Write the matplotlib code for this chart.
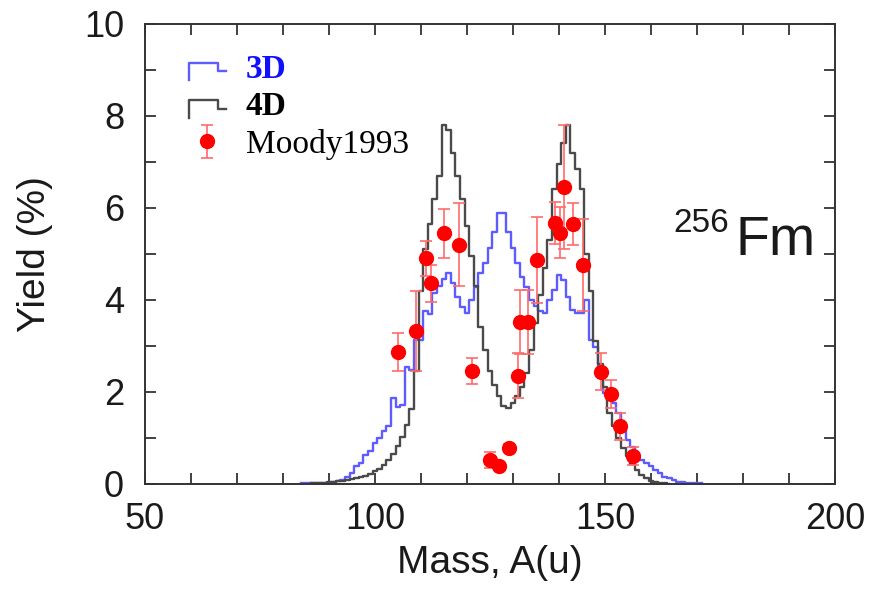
import numpy as np
import matplotlib
matplotlib.use("Agg")
import matplotlib.pyplot as plt
from matplotlib.lines import Line2D
from matplotlib.legend_handler import HandlerBase
from matplotlib.ticker import MultipleLocator

# fragment mass bins (u) and calculated yields (%)
mass_3d = np.arange(84, 172)
yield_3d = [0.01, 0.01, 0.01, 0.02, 0.02, 0.02, 0.03, 0.04, 0.06, 0.09,
            0.16, 0.23, 0.38, 0.45, 0.63, 0.72, 0.88, 1.00, 1.14, 1.25,
            1.86, 1.68, 1.72, 2.55, 2.48, 3.13, 3.13, 3.75, 3.70, 4.15,
            4.30, 4.45, 4.58, 4.36, 4.07, 3.85, 3.72, 4.00, 4.29, 4.58,
            4.80, 5.12, 5.48, 5.88, 5.88, 5.48, 5.12, 4.80, 4.50, 4.29,
            4.00, 3.86, 3.75, 3.71, 4.00, 4.22, 4.54, 4.43, 4.07, 3.78,
            3.71, 3.71, 4.00, 3.13, 2.98, 2.50, 1.97, 1.83, 1.75, 1.54,
            1.17, 0.96, 0.81, 0.67, 0.52, 0.45, 0.38, 0.30, 0.23, 0.16,
            0.12, 0.08, 0.05, 0.04, 0.03, 0.02, 0.02, 0.01]

mass_4d = np.arange(86, 165)
yield_4d = [0.01, 0.01, 0.02, 0.03, 0.04, 0.05, 0.06, 0.07, 0.09, 0.11,
            0.13, 0.15, 0.18, 0.22, 0.27, 0.33, 0.41, 0.52, 0.65, 0.82,
            1.02, 1.28, 1.62, 2.45, 4.20, 5.10, 5.65, 6.20, 6.70, 7.80,
            7.70, 7.20, 6.70, 6.20, 5.60, 4.95, 4.30, 3.40, 2.90, 2.45,
            2.15, 1.90, 1.70, 1.65, 1.75, 1.90, 2.10, 2.40, 2.90, 3.50,
            4.10, 4.70, 5.30, 6.40, 6.95, 7.40, 7.80, 7.20, 6.85, 6.40,
            5.00, 4.20, 3.10, 2.60, 2.10, 1.55, 1.25, 1.00, 0.78, 0.60,
            0.44, 0.30, 0.20, 0.12, 0.07, 0.04, 0.02, 0.01, 0.00]

# measured yields (Moody 1993)
mass_exp = [105.0, 108.9, 111.1, 112.2, 115.0, 118.3, 121.1, 125.0, 127.0,
            129.2, 131.2, 131.6, 133.3, 135.3, 139.1, 140.2, 141.2, 143.1,
            145.3, 149.1, 151.3, 153.3, 156.2]
yield_exp = [2.87, 3.32, 4.91, 4.36, 5.45, 5.20, 2.46, 0.52, 0.38, 0.79,
             2.35, 3.52, 3.52, 4.87, 5.67, 5.46, 6.45, 5.65, 4.75, 2.44,
             1.95, 1.25, 0.61]
err_exp = [0.42, 0.87, 0.38, 0.40, 0.53, 0.90, 0.28, 0.18, 0.08, 0.08,
           0.49, 0.70, 0.70, 0.93, 0.45, 0.55, 1.35, 0.45, 1.00, 0.40,
           0.30, 0.30, 0.20]

BLUE = "#5c5cff"
GRAY = "#4a4a4a"
RED = "#ff0000"
SANS = "Liberation Sans"
SERIF = "Liberation Serif"


class StepHandler(HandlerBase):
    """Legend key drawn as a small histogram step."""

    def create_artists(self, legend, orig_handle, xdescent, ydescent,
                       width, height, fontsize, trans):
        c = height / 2 - ydescent
        x0 = -xdescent
        xs = [x0, x0, x0 + 0.8 * width, x0 + 0.8 * width, x0 + width]
        ys = [c - 0.42 * fontsize, c + 0.1 * fontsize, c + 0.1 * fontsize,
              c - 0.15 * fontsize, c - 0.15 * fontsize]
        line = Line2D(xs, ys, color=orig_handle.get_color(),
                      lw=orig_handle.get_linewidth(), transform=trans)
        return [line]


fig = plt.figure(figsize=(8.73, 5.93), dpi=100)
ax = fig.add_axes([0.166, 0.184, 0.7904, 0.7757])

l3, = ax.step(mass_3d, yield_3d, where="mid", color=BLUE, lw=1.7)
l4, = ax.step(mass_4d, yield_4d, where="mid", color=GRAY, lw=1.7)
eb = ax.errorbar(mass_exp, yield_exp, yerr=err_exp, fmt="o", color=RED,
                 ms=10, ecolor="#ff6b6b", elinewidth=1.2, capsize=4,
                 capthick=1.2)

ax.set_xlim(50, 200)
ax.set_ylim(0, 10)
ax.xaxis.set_major_locator(MultipleLocator(50))
ax.xaxis.set_minor_locator(MultipleLocator(10))
ax.yaxis.set_major_locator(MultipleLocator(2))
ax.yaxis.set_minor_locator(MultipleLocator(1))
ax.tick_params(which="both", direction="in", top=True, right=True,
               length=8, width=1.3, color="#333333")
ax.tick_params(which="major", labelsize=26, labelcolor="#1a1a1a")
ax.tick_params(axis="x", which="major", pad=13)
ax.tick_params(axis="y", which="major", pad=15)
for lab in ax.get_xticklabels() + ax.get_yticklabels():
    lab.set_fontfamily(SANS)
for sp in ax.spines.values():
    sp.set_color("#333333")
    sp.set_linewidth(1.4)

ax.set_xlabel("Mass, A(u)", fontsize=28, family=SANS, color="#1a1a1a",
              labelpad=6)
ax.set_ylabel("Yield (%)", fontsize=28, family=SANS, color="#1a1a1a",
              labelpad=22)

# nucleus label with mass number as superscript
ax.text(0.972, 0.498, "Fm", transform=ax.transAxes, fontsize=40,
        family=SANS, ha="right", va="baseline", color="#1a1a1a")
ax.text(0.846, 0.548, "256", transform=ax.transAxes, fontsize=24,
        family=SANS, ha="right", va="baseline", color="#1a1a1a")

leg = ax.legend([l3, l4, eb], ["3D", "4D", "Moody1993"],
                handler_map={l3: StepHandler(), l4: StepHandler()},
                loc="upper left", bbox_to_anchor=(0.064, 0.935),
                frameon=False, borderpad=0, borderaxespad=0,
                handlelength=1.1, handletextpad=0.6, labelspacing=0.2,
                prop={"family": SERIF, "size": 24})
texts = leg.get_texts()
texts[0].set_color("#1010ff")
texts[0].set_fontweight("bold")
texts[1].set_fontweight("bold")

fig.savefig("out.png", dpi=100)
